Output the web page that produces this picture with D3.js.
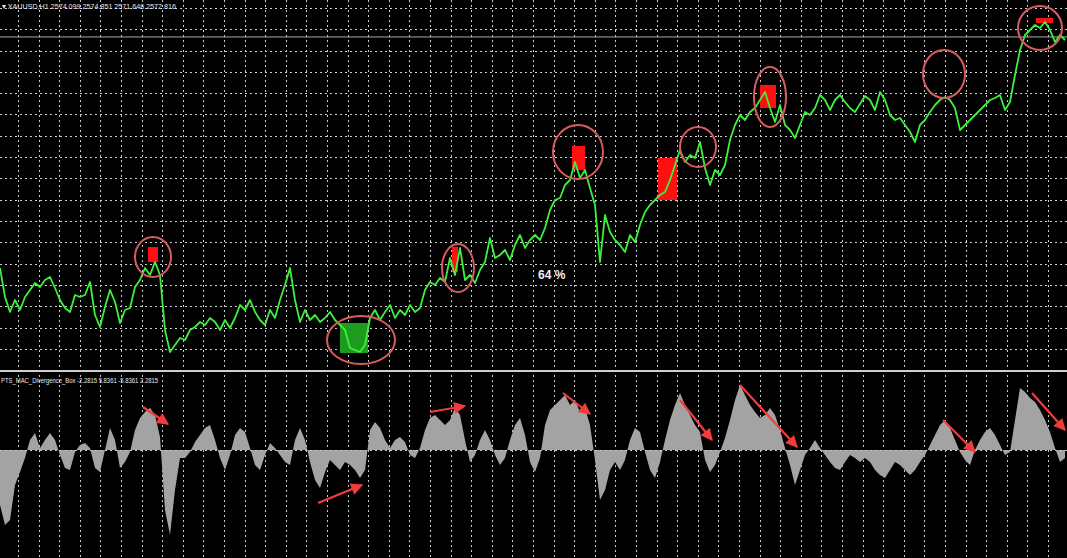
<!DOCTYPE html>
<html><head><meta charset="utf-8">
<script src="https://cdn.jsdelivr.net/npm/d3@7"></script>
<style>html,body{margin:0;padding:0;background:#000;overflow:hidden}</style>
</head><body><svg id="c" width="1067" height="558"></svg>
<script>
// ---- data (sampled every 5 bars-units along the chart) ----
const symbolTitle = "▾ XAUUSD,H1  2574.099 2574.851 2571.646 2572.816";
const indicatorTitle = "PTS_MAC_Divergence_Box -2.2815 5.8361 -5.8361 2.2815";
const lastPrice = 2572.816;
const winRateLabel = "64 %";
const winRateAt = [107.6, 2451.8];

const price = [2457.3,2442.8,2435.3,2441.3,2436.3,2442.8,2446.3,2449.8,2447.8,2451.3,2452.8,2447.3,2441.3,2437.3,2435.3,2443.8,2442.8,2443.8,2450.3,2433.8,
2427.8,2437.8,2446.3,2440.3,2429.8,2436.3,2437.3,2447.8,2451.3,2457.3,2453.8,2460.3,2453.8,2426.3,2415.3,2418.8,2422.3,2421.3,2426.3,2427.8,
2430.3,2428.8,2432.3,2430.3,2426.3,2431.3,2427.3,2432.3,2438.8,2436.3,2441.3,2435.3,2431.3,2428.8,2436.3,2432.3,2441.3,2448.8,2457.3,2441.3,
2430.3,2436.3,2431.3,2433.8,2430.3,2432.3,2435.3,2431.3,2428.8,2426.3,2417.3,2416.3,2415.3,2418.8,2432.3,2436.3,2431.3,2435.3,2438.8,2432.3,
2436.3,2433.8,2438.8,2435.3,2437.3,2446.3,2450.3,2448.8,2452.3,2450.3,2462.3,2453.8,2467.3,2451.3,2453.8,2449.8,2456.3,2460.3,2472.3,2462.3,
2463.8,2466.3,2461.3,2468.8,2473.8,2467.3,2471.3,2473.8,2471.3,2477.3,2486.3,2491.3,2492.3,2498.8,2501.3,2510.3,2502.3,2506.3,2497.3,2488.8,
2460.3,2483.8,2475.3,2471.3,2468.8,2465.3,2473.8,2470.3,2478.8,2485.3,2488.8,2491.3,2493.8,2495.3,2501.3,2508.8,2516.3,2510.3,2513.8,2512.3,
2520.3,2507.3,2498.8,2506.3,2503.8,2508.8,2521.3,2528.8,2533.8,2531.3,2535.3,2537.3,2541.3,2545.3,2537.3,2530.3,2538.8,2528.8,2526.3,2522.3,
2528.8,2535.3,2533.8,2537.3,2543.8,2541.3,2536.3,2541.3,2543.8,2540.3,2537.3,2535.3,2539.3,2543.3,2541.3,2536.3,2545.3,2541.3,2533.8,2531.3,
2532.3,2528.8,2525.3,2520.3,2528.8,2531.3,2535.3,2538.8,2541.3,2542.8,2541.3,2537.3,2526.3,2528.8,2531.3,2533.8,2536.3,2538.8,2541.3,2542.3,
2543.8,2536.3,2540.3,2553.8,2566.3,2573.8,2576.3,2578.8,2577.3,2580.3,2576.3,2570.3,2573.8,2571.3];

const osc = [-5.5,-7.5,-7.0,-3.5,-2.2,-0.8,1.0,1.7,0.2,1.0,1.7,1.0,-0.5,-1.8,-2.0,-0.2,0.5,0.7,0.2,-1.8,
-2.2,0,2.2,1.0,-1.8,-1.2,-0.2,2.0,3.2,3.8,4.2,3.5,1.3,-6.0,-8.5,-4.0,-0.8,-0.8,-0.2,0.8,
1.5,2.2,2.5,1.0,-0.8,-2.0,-0.5,1.5,2.2,1.8,0.2,-1.5,-2.0,-0.5,0.7,0.2,-0.5,-1.2,-1.5,1.0,
2.2,1.0,-1.2,-3.0,-3.8,-2.2,-1.0,-1.5,-2.0,-1.2,-1.5,-2.0,-2.8,-2.0,2.0,2.8,2.2,1.0,0.2,1.0,
1.3,0.8,-0.5,-0.8,0.2,2.0,3.2,3.5,3.0,2.5,3.0,4.2,3.5,1.0,-1.2,-0.5,1.0,2.0,1.0,-0.5,
-1.5,-0.8,1.0,2.5,3.2,1.5,-1.2,-2.2,-0.8,2.5,4.0,4.5,5.0,5.5,4.5,5.0,3.8,4.2,2.5,-1.0,
-5.0,-4.0,-2.0,-1.2,-2.0,-1.0,1.0,2.2,1.8,-0.2,-2.0,-2.8,-1.2,1.0,3.0,4.5,5.7,4.5,3.5,2.5,
1.8,-1.0,-2.2,-1.5,-0.2,1.2,3.0,5.0,6.5,5.5,4.5,3.8,3.2,3.5,4.2,3.5,2.0,0.2,-1.5,-3.5,
-2.0,-0.5,0.2,1.0,0.2,-0.5,-1.2,-1.8,-2.0,-1.2,-0.5,-0.8,-1.2,-0.8,-1.2,-2.0,-2.5,-2.8,-2.0,-1.2,
-1.5,-2.0,-2.5,-2.0,-1.2,-0.5,0.5,1.5,2.5,3.0,2.2,1.0,-0.2,-1.0,-1.5,0,1.0,1.8,2.2,1.5,
0.5,-0.5,-0.2,3.0,6.2,5.8,5.2,4.8,4.0,3.0,1.8,0.2,-1.2,-0.8];

// annotations in data units: [barIndex, price]
const circleCenters = [[30.6,2462.8],[91.6,2457.3],[115.6,2515.3],[139.6,2517.8],[154,2542.8],[188.8,2554.3],[208,2577.3]];
const greenCircleCenter = [72.2,2421.3];
// boxes: [barStart, barEnd, priceHigh, priceLow]
const redBoxes = [[29.6,31.6,2467.8,2460.3],[90.4,91.6,2467.8,2455.3],[114.4,117,2518.3,2506.3],[131.6,135.4,2512.3,2491.3],[152,155.2,2548.8,2537.3],[207.2,210.6,2582.3,2579.8]];
const greenBoxes = [[68,73.6,2429.8,2414.8]];
// divergence arrows in oscillator units: [bar0, v0, bar1, v1]
const arrows = [[28.6,4.3,33.6,2.6],[63.6,-5.3,72.4,-3.5],[86,3.8,93,4.4],[112.6,5.7,118,3.6],[136,5.0,142.4,1.0],[148,6.5,159.4,0.3],[188.6,3.0,195,-0.2],[206.4,5.7,213,2.0]];

// grid definition (data units)
const gridBarStart = 3.6, gridBarStep = 4.12;
const gridPriceTop = 2587.3, gridPriceStep = 10.65;

// ---- layout / style ----
const W = 1067, H = 558;
const topPanel = [0, 370], botPanel = [373, 558];
const circleRadii = [[18,20],[16,24],[25,27],[18,20],[16,30],[21,24],[22,22]];
const greenCircleRadius = [34,24];

const svg = d3.select("#c");
svg.append("rect").attr("width",W).attr("height",H).attr("fill","#000");

const x = d3.scaleLinear().domain([0, price.length-1]).range([0, 1065]);
const y = d3.scaleLinear().domain([2591.3, 2406.3]).range(topPanel);
const yo = d3.scaleLinear().domain([7.4, -10.6]).range([376, 556]);

const defs = svg.append("defs");
defs.append("clipPath").attr("id","cpTop").append("rect").attr("x",0).attr("y",0).attr("width",W).attr("height",topPanel[1]);
defs.append("clipPath").attr("id","cpBot").append("rect").attr("x",0).attr("y",botPanel[0]).attr("width",W).attr("height",H-botPanel[0]);
defs.append("marker").attr("id","ah").attr("viewBox","0 0 10 10").attr("refX",9).attr("refY",5)
  .attr("markerWidth",14).attr("markerHeight",12).attr("orient","auto").attr("markerUnits","userSpaceOnUse")
  .append("path").attr("d","M0,0 L10,5 L0,10 Z").attr("fill","#f23c3c");

const gridStyle = g => g.attr("stroke","#cccccc").attr("stroke-width",1).attr("stroke-dasharray","2,3").attr("shape-rendering","crispEdges");

// vertical grid (both panels)
const vBars = d3.range(gridBarStart, price.length, gridBarStep);
svg.append("g").call(gridStyle).selectAll("line").data(vBars).join("line")
  .attr("x1", d=>Math.round(x(d))+0.5).attr("x2", d=>Math.round(x(d))+0.5).attr("y1",0).attr("y2",H);
// horizontal grid (top panel)
const hLevels = d3.range(gridPriceTop, 2410, -gridPriceStep);
svg.append("g").call(gridStyle).selectAll("line").data(hLevels).join("line")
  .attr("x1",0).attr("x2",W).attr("y1", d=>Math.round(y(d))+0.5).attr("y2", d=>Math.round(y(d))+0.5);

// panel separator
svg.append("rect").attr("x",0).attr("y",370).attr("width",W).attr("height",2).attr("fill","#cfcfcf");

// last price line
svg.append("line").attr("x1",0).attr("x2",W).attr("y1",y(lastPrice)).attr("y2",y(lastPrice))
  .attr("stroke","#a8a8a8").attr("stroke-width",1);

const gTop = svg.append("g").attr("clip-path","url(#cpTop)");
// boxes
gTop.selectAll("rect.rb").data(redBoxes).join("rect").attr("class","rb")
  .attr("x",d=>x(d[0])).attr("width",d=>x(d[1])-x(d[0])).attr("y",d=>y(d[2])).attr("height",d=>y(d[3])-y(d[2]))
  .attr("fill","#ff1010");
gTop.selectAll("rect.gb").data(greenBoxes).join("rect").attr("class","gb")
  .attr("x",d=>x(d[0])).attr("width",d=>x(d[1])-x(d[0])).attr("y",d=>y(d[2])).attr("height",d=>y(d[3])-y(d[2]))
  .attr("fill","#1e9a1e");
// price line
gTop.append("path").datum(price)
  .attr("d", d3.line().x((d,i)=>x(i)).y(d=>y(d)))
  .attr("fill","none").attr("stroke","#3cf03c").attr("stroke-width",1.8).attr("stroke-linejoin","round");
// circles
gTop.selectAll("ellipse.rc").data(circleCenters).join("ellipse").attr("class","rc")
  .attr("cx",d=>x(d[0])).attr("cy",d=>y(d[1]))
  .attr("rx",(d,i)=>circleRadii[i][0]).attr("ry",(d,i)=>circleRadii[i][1])
  .attr("fill","none").attr("stroke","#d65c60").attr("stroke-width",2);
gTop.append("ellipse").attr("cx",x(greenCircleCenter[0])).attr("cy",y(greenCircleCenter[1]))
  .attr("rx",greenCircleRadius[0]).attr("ry",greenCircleRadius[1])
  .attr("fill","none").attr("stroke","#d65c60").attr("stroke-width",2);

// labels
svg.append("text").attr("x",2).attr("y",9).attr("fill","#e8e8e8")
  .attr("font-family","Liberation Sans, Arial, sans-serif").attr("font-size",7.5)
  .attr("textLength",174).attr("lengthAdjust","spacingAndGlyphs").text(symbolTitle);
svg.append("text").attr("x",x(winRateAt[0])).attr("y",y(winRateAt[1])).attr("fill","#f0f0f0")
  .attr("font-family","Liberation Sans, Arial, sans-serif").attr("font-size",12).attr("font-weight","bold").text(winRateLabel);

// oscillator panel
const gBot = svg.append("g").attr("clip-path","url(#cpBot)");
gBot.append("path").datum(osc)
  .attr("d", d3.area().x((d,i)=>x(i)).y0(yo(0)).y1(d=>yo(d)))
  .attr("fill","#a3a3a3");
gBot.append("line").attr("x1",0).attr("x2",W).attr("y1",Math.round(yo(0))+0.5).attr("y2",Math.round(yo(0))+0.5)
  .attr("stroke","#c8c8c8").attr("stroke-dasharray","2,3");
gBot.selectAll("line.ar").data(arrows).join("line").attr("class","ar")
  .attr("x1",d=>x(d[0])).attr("y1",d=>yo(d[1])).attr("x2",d=>x(d[2])).attr("y2",d=>yo(d[3]))
  .attr("stroke","#f23c3c").attr("stroke-width",2.2).attr("marker-end","url(#ah)");
svg.append("text").attr("x",1).attr("y",383).attr("fill","#e8e8e8")
  .attr("font-family","Liberation Sans, Arial, sans-serif").attr("font-size",7)
  .attr("textLength",157).attr("lengthAdjust","spacingAndGlyphs").text(indicatorTitle);
</script></body></html>
